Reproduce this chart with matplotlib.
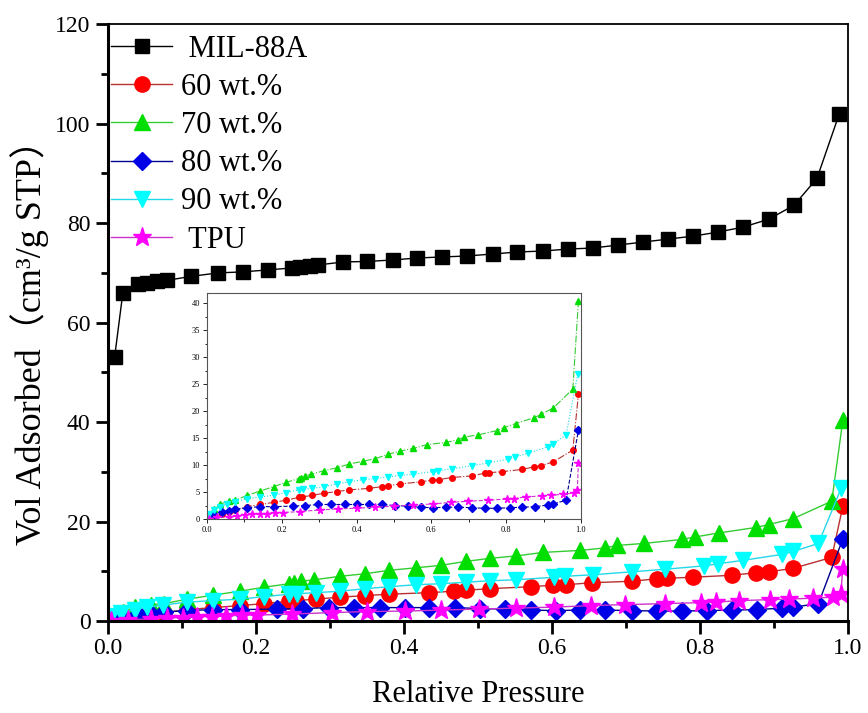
import matplotlib
matplotlib.use("Agg")
import matplotlib.pyplot as plt
from matplotlib.ticker import MultipleLocator, FormatStrFormatter

plt.rcParams['font.family'] = ['Liberation Serif', 'Noto Sans CJK SC', 'DejaVu Sans']

# ---- data ----
mil_x = [0.009, 0.020, 0.041, 0.053, 0.066, 0.080, 0.112, 0.149, 0.182, 0.216,
         0.249, 0.259, 0.273, 0.284, 0.318, 0.350, 0.385, 0.418, 0.451, 0.485,
         0.520, 0.553, 0.588, 0.622, 0.655, 0.689, 0.723, 0.757, 0.791, 0.824,
         0.858, 0.893, 0.927, 0.958, 0.988]
mil_y = [53.1, 65.9, 67.7, 67.9, 68.3, 68.5, 69.3, 70.0, 70.2, 70.6,
         71.0, 71.2, 71.4, 71.6, 72.2, 72.3, 72.6, 73.0, 73.2, 73.4,
         73.8, 74.2, 74.4, 74.8, 75.0, 75.6, 76.2, 76.8, 77.4, 78.2,
         79.2, 80.8, 83.6, 89.0, 101.9]

w60_x = [0.009, 0.040, 0.058, 0.076, 0.107, 0.142, 0.178, 0.211, 0.245, 0.254,
         0.281, 0.314, 0.347, 0.380, 0.434, 0.467, 0.484, 0.516, 0.571, 0.601,
         0.619, 0.654, 0.708, 0.742, 0.755, 0.790, 0.843, 0.875, 0.893, 0.926,
         0.978, 0.993]
w60_y = [0.6, 1.0, 1.4, 1.7, 2.3, 2.7, 3.1, 3.5, 4.0, 4.1,
         4.4, 4.8, 5.1, 5.4, 5.7, 6.0, 6.2, 6.5, 6.9, 7.2,
         7.3, 7.7, 8.0, 8.5, 8.6, 8.8, 9.2, 9.7, 9.9, 10.6,
         12.8, 23.1]

w70_x = [0.008, 0.020, 0.036, 0.058, 0.076, 0.107, 0.142, 0.178, 0.211, 0.245,
         0.252, 0.261, 0.279, 0.314, 0.347, 0.380, 0.416, 0.450, 0.484, 0.516,
         0.552, 0.588, 0.638, 0.672, 0.688, 0.724, 0.775, 0.793, 0.825, 0.875,
         0.893, 0.926, 0.978, 0.993]
w70_y = [1.0, 1.8, 2.8, 3.3, 3.5, 4.4, 5.2, 6.0, 6.8, 7.5,
         7.7, 8.0, 8.3, 9.0, 9.5, 10.2, 10.7, 11.2, 12.0, 12.6,
         13.1, 13.8, 14.2, 14.7, 15.2, 15.6, 16.4, 16.9, 17.7, 18.8,
         19.4, 20.6, 24.1, 40.4]

w80_x = [0.004, 0.018, 0.040, 0.058, 0.076, 0.107, 0.142, 0.178, 0.229, 0.263,
         0.298, 0.332, 0.368, 0.401, 0.434, 0.469, 0.503, 0.537, 0.571, 0.605,
         0.638, 0.672, 0.708, 0.742, 0.776, 0.809, 0.843, 0.877, 0.911, 0.926,
         0.960, 0.993]
w80_y = [0.3, 0.7, 1.4, 1.5, 1.8, 2.1, 2.3, 2.3, 2.4, 2.5,
         2.7, 2.7, 2.7, 2.7, 2.7, 2.7, 2.5, 2.4, 2.2, 2.1,
         2.2, 2.2, 2.1, 2.0, 2.0, 2.1, 2.2, 2.3, 2.6, 2.8,
         3.5, 16.5]

w90_x = [0.004, 0.018, 0.036, 0.053, 0.074, 0.107, 0.142, 0.178, 0.211, 0.245,
         0.256, 0.281, 0.314, 0.347, 0.380, 0.416, 0.450, 0.484, 0.516, 0.552,
         0.603, 0.618, 0.655, 0.708, 0.752, 0.806, 0.824, 0.858, 0.911, 0.926,
         0.960, 0.991]
w90_y = [1.0, 1.7, 2.3, 2.8, 3.2, 3.8, 4.1, 4.4, 4.9, 5.4,
         5.5, 5.7, 6.0, 6.5, 6.9, 7.3, 7.5, 7.8, 8.1, 8.3,
         8.8, 9.0, 9.3, 9.9, 10.4, 11.1, 11.5, 12.2, 13.4, 14.0,
         15.6, 26.8]

tpu_x = [0.004, 0.027, 0.058, 0.080, 0.101, 0.120, 0.141, 0.160, 0.181, 0.202,
         0.249, 0.303, 0.350, 0.401, 0.450, 0.501, 0.552, 0.603, 0.653, 0.699,
         0.752, 0.801, 0.822, 0.852, 0.895, 0.920, 0.953, 0.980, 0.990, 0.993]
tpu_y = [0.1, 0.3, 0.4, 0.6, 0.7, 0.9, 0.9, 1.0, 1.2, 1.2,
         1.4, 1.7, 1.9, 2.0, 2.2, 2.4, 2.6, 2.8, 3.1, 3.3,
         3.5, 3.7, 3.8, 4.1, 4.3, 4.4, 4.6, 4.8, 5.4, 10.4]

series = [
    (' MIL-88A', mil_x, mil_y, 's', 'black', 'black', '-'),
    ('60 wt.%', w60_x, w60_y, 'o', '#ff0000', '#b83030', '-.'),
    ('70 wt.%', w70_x, w70_y, '^', '#00dd00', '#33cc33', '-.'),
    ('80 wt.%', w80_x, w80_y, 'D', '#0000e6', '#000090', '--'),
    ('90 wt.%', w90_x, w90_y, 'v', '#00ffff', '#22d8e8', ':'),
    (' TPU', tpu_x, tpu_y, '*', '#ff00ff', '#cc33cc', '--'),
]
main_ms = {'s': 10, 'o': 11, '^': 12, 'D': 9, 'v': 12, '*': 14}

fig = plt.figure(figsize=(8.68, 7.13), dpi=100)
ax = fig.add_axes([0.1244, 0.129, 0.8526, 0.837])

handles = []
for name, xs, ys, m, mc, lc, ls in series:
    h, = ax.plot(xs, ys, color=lc, lw=1.0, ls='-', marker=m, ms=main_ms[m],
                 mfc=mc, mec=mc, label=name)
    handles.append(h)

ax.set_xlim(0, 1.0)
ax.set_ylim(0, 120)
ax.xaxis.set_major_locator(MultipleLocator(0.2))
ax.xaxis.set_minor_locator(MultipleLocator(0.1))
ax.xaxis.set_major_formatter(FormatStrFormatter('%.1f'))
ax.yaxis.set_major_locator(MultipleLocator(20))
ax.yaxis.set_minor_locator(MultipleLocator(10))
ax.tick_params(which='both', direction='out', top=False, right=False, labelsize=17, width=2)
ax.tick_params(which='major', length=9)
ax.tick_params(which='minor', length=5)
for s in ['left', 'bottom']:
    ax.spines[s].set_linewidth(2.2)
for s in ['top', 'right']:
    ax.spines[s].set_linewidth(1.3)

ax.set_xlabel('Relative Pressure', fontsize=22, labelpad=15)
ax.set_ylabel('Vol Adsorbed（cm³/g STP）', fontsize=26)
ax.yaxis.set_label_coords(-0.080, 0.482)

leg = ax.legend(handles=handles, loc='upper left', frameon=False, fontsize=22,
                handlelength=2.0, handletextpad=0.3, labelspacing=0.3,
                borderpad=0.15, borderaxespad=0.0, bbox_to_anchor=(-0.002, 0.99))

# ---- inset ----
ins = fig.add_axes([0.2385, 0.272, 0.4309, 0.317])
for name, xs, ys, m, mc, lc, ls in series[1:]:
    ins.plot(xs, ys, color=lc, lw=0.8, ls=ls, marker=m, ms=4 if m != '*' else 5.5,
             mfc=mc, mec=mc)
ins.set_xlim(0, 1.0)
ins.set_ylim(0, 41.9)
ins.xaxis.set_major_locator(MultipleLocator(0.2))
ins.xaxis.set_minor_locator(MultipleLocator(0.1))
ins.xaxis.set_major_formatter(FormatStrFormatter('%.1f'))
ins.yaxis.set_major_locator(MultipleLocator(5))
ins.yaxis.set_minor_locator(MultipleLocator(2.5))
ins.tick_params(which='both', direction='out', top=False, right=False, labelsize=6,
                width=0.6, pad=2)
ins.tick_params(which='major', length=3)
ins.tick_params(which='minor', length=1.8)
for s in ins.spines.values():
    s.set_linewidth(0.8)
    s.set_color('#555555')

fig.savefig('out.png', dpi=100)
